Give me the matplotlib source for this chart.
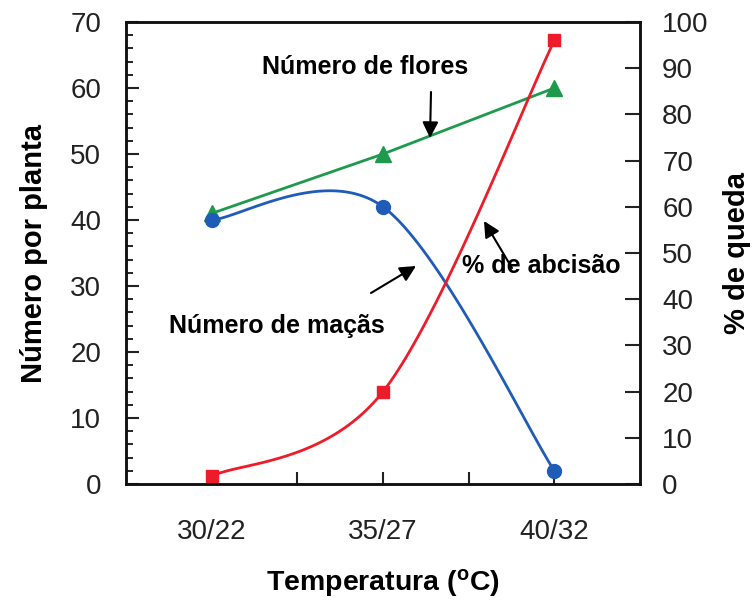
import numpy as np
import matplotlib
matplotlib.use("Agg")
import matplotlib.pyplot as plt

plt.rcParams['font.family'] = ['Liberation Sans', 'DejaVu Sans']

## ------------------
## Data
## ------------------
categories = ["30/22", "35/27", "40/32"]
flores = [41, 50, 60]        # left axis
macas = [40, 42, 2]          # left axis
abcisao = [1.7, 20, 96]      # right axis (%)


## Excel-like smoothed line (Catmull-Rom as cubic Bezier)
def smooth(x, y, n=60):
    x = np.asarray(x, float)
    y = np.asarray(y, float)
    px = np.concatenate([[x[0]], x, [x[-1]]])
    py = np.concatenate([[y[0]], y, [y[-1]]])
    xs, ys = [], []
    t = np.linspace(0, 1, n)
    for i in range(1, len(x)):
        p0 = np.array([px[i], py[i]])
        p3 = np.array([px[i + 1], py[i + 1]])
        c1 = p0 + (np.array([px[i + 1], py[i + 1]]) - np.array([px[i - 1], py[i - 1]])) / 6
        c2 = p3 - (np.array([px[i + 2], py[i + 2]]) - np.array([px[i], py[i]])) / 6
        b = ((1 - t) ** 3)[:, None] * p0 + (3 * (1 - t) ** 2 * t)[:, None] * c1 \
            + (3 * (1 - t) * t ** 2)[:, None] * c2 + (t ** 3)[:, None] * p3
        xs.append(b[:, 0])
        ys.append(b[:, 1])
    return np.concatenate(xs), np.concatenate(ys)


x = np.arange(len(categories))
green = "#1e9a4c"
blue = "#1f5cb8"
red = "#ee1c2a"

fig = plt.figure(figsize=(7.55, 6.08), dpi=100)
ax = fig.add_axes([0.1669, 0.2039, 0.6808, 0.7599])
ax2 = ax.twinx()

## flores (straight)
ax.plot(x, flores, color=green, lw=2, marker="^", ms=11, zorder=3)
## macas (smooth)
sx, sy = smooth(x, macas)
ax.plot(sx, sy, color=blue, lw=2, zorder=3)
ax.plot(x, macas, ls="none", color=blue, marker="o", ms=10, zorder=4)
## abcisao (smooth, right axis)
sx, sy = smooth(x, abcisao)
ax2.plot(sx, sy, color=red, lw=2)
ax2.plot(x, abcisao, ls="none", color=red, marker="s", ms=8)

ax.set_xlim(-0.5, 2.5)
ax.set_ylim(0, 70)
ax2.set_ylim(0, 100)

ax.set_xticks([0, 0.5, 1, 1.5, 2])
ax.set_xticklabels(["30/22", "", "35/27", "", "40/32"])
ax.set_yticks(np.arange(0, 71, 10))
ax.set_yticks(np.arange(0, 71, 2), minor=True)
ax2.set_yticks(np.arange(0, 101, 10))

ax.tick_params(axis="x", direction="in", length=9, width=1.5, labelsize=20, pad=25, colors="#222222")
ax.tick_params(axis="y", which="major", direction="in", length=9, width=1.5, labelsize=20, pad=18, colors="#222222")
ax.tick_params(axis="y", which="minor", direction="in", length=5, width=1.2)
ax2.tick_params(axis="y", direction="in", length=11, width=1.5, labelsize=20, pad=16, colors="#222222")
for a in (ax, ax2):
    for s in a.spines.values():
        s.set_linewidth(1.8)
        s.set_color("#111111")

ax.set_xlabel("Temperatura ($\\mathregular{^{o}}$C)", fontsize=20.5, fontweight="bold", labelpad=16)
ax.set_ylabel("Número por planta", fontsize=21, fontweight="bold", labelpad=16)
ax2.set_ylabel("% de queda", fontsize=21, fontweight="bold", labelpad=10)

## annotations
arrow = dict(arrowstyle="-|>", color="black", lw=1.5, mutation_scale=24, shrinkA=0, shrinkB=0)
ax.text(365 / 755, 1 - 67 / 608, "Número de flores", transform=fig.transFigure,
        ha="center", va="center", fontsize=18, fontweight="bold")
ax.text(277 / 755, 1 - 326 / 608, "Número de maçãs", transform=fig.transFigure,
        ha="center", va="center", fontsize=18, fontweight="bold")
ax.text(541 / 755, 1 - 266 / 608, "% de abcisão", transform=fig.transFigure,
        ha="center", va="center", fontsize=18, fontweight="bold")
ax.annotate("", xy=(430 / 755, 1 - 138 / 608), xytext=(431 / 755, 1 - 92 / 608),
            xycoords="figure fraction", textcoords="figure fraction", arrowprops=arrow)
ax.annotate("", xy=(416 / 755, 1 - 266 / 608), xytext=(371 / 755, 1 - 293 / 608),
            xycoords="figure fraction", textcoords="figure fraction", arrowprops=arrow)
ax.annotate("", xy=(484 / 755, 1 - 221 / 608), xytext=(512 / 755, 1 - 268 / 608),
            xycoords="figure fraction", textcoords="figure fraction", arrowprops=arrow)

fig.savefig("out.png", dpi=100)
